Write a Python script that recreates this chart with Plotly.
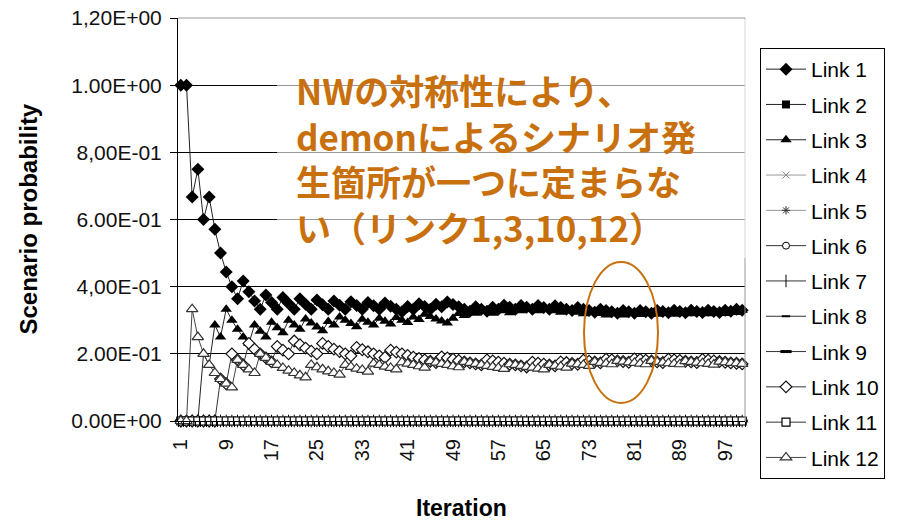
import plotly.graph_objects as go

iterations = list(range(1, 101))
x_tick_values = [1, 9, 17, 25, 33, 41, 49, 57, 65, 73, 81, 89, 97]
x_tick_labels = ["1", "9", "17", "25", "33", "41", "49", "57", "65", "73", "81", "89", "97"]
y_tick_values = [0.0, 0.2, 0.4, 0.6, 0.8, 1.0, 1.2]
y_tick_labels = ["0.00E+00", "2.00E-01", "4,00E-01", "6.00E-01", "8,00E-01", "1.00E+00", "1,20E+00"]

link1 = [
    1.000, 1.000, 0.667, 0.750, 0.600, 0.667, 0.571, 0.500, 0.444, 0.400,
    0.364, 0.417, 0.385, 0.357, 0.333, 0.375, 0.353, 0.333, 0.368, 0.350,
    0.333, 0.364, 0.348, 0.333, 0.360, 0.346, 0.333, 0.357, 0.345, 0.333,
    0.355, 0.344, 0.333, 0.353, 0.343, 0.333, 0.351, 0.342, 0.333, 0.325,
    0.341, 0.333, 0.349, 0.341, 0.333, 0.348, 0.340, 0.354, 0.347, 0.340,
    0.333, 0.327, 0.340, 0.333, 0.327, 0.339, 0.333, 0.345, 0.339, 0.333,
    0.344, 0.339, 0.333, 0.344, 0.338, 0.333, 0.343, 0.338, 0.333, 0.329,
    0.338, 0.333, 0.329, 0.324, 0.333, 0.329, 0.325, 0.321, 0.329, 0.325,
    0.321, 0.329, 0.325, 0.321, 0.329, 0.326, 0.322, 0.330, 0.326, 0.322,
    0.330, 0.326, 0.323, 0.330, 0.326, 0.323, 0.330, 0.327, 0.333, 0.330,
]

link3 = [
    0.000, 0.000, 0.000, 0.000, 0.200, 0.167, 0.286, 0.250, 0.333, 0.300,
    0.273, 0.250, 0.231, 0.286, 0.267, 0.250, 0.294, 0.278, 0.263, 0.300,
    0.286, 0.273, 0.304, 0.292, 0.280, 0.269, 0.296, 0.286, 0.310, 0.300,
    0.290, 0.281, 0.303, 0.294, 0.286, 0.306, 0.297, 0.289, 0.308, 0.300,
    0.293, 0.310, 0.302, 0.318, 0.311, 0.304, 0.298, 0.292, 0.306, 0.320,
    0.314, 0.327, 0.321, 0.333, 0.327, 0.321, 0.333, 0.328, 0.322, 0.333,
    0.328, 0.339, 0.333, 0.328, 0.338, 0.333, 0.328, 0.324, 0.333, 0.329,
    0.324, 0.319, 0.329, 0.324, 0.320, 0.316, 0.325, 0.321, 0.316, 0.325,
    0.321, 0.317, 0.325, 0.321, 0.318, 0.326, 0.322, 0.318, 0.326, 0.322,
    0.319, 0.326, 0.323, 0.319, 0.326, 0.323, 0.320, 0.327, 0.323, 0.330,
]

link10 = [
    0.000, 0.000, 0.000, 0.000, 0.000, 0.000, 0.000, 0.125, 0.111, 0.200,
    0.182, 0.167, 0.231, 0.214, 0.200, 0.188, 0.176, 0.222, 0.211, 0.200,
    0.238, 0.227, 0.217, 0.208, 0.200, 0.231, 0.222, 0.214, 0.207, 0.200,
    0.194, 0.219, 0.212, 0.206, 0.200, 0.194, 0.189, 0.211, 0.205, 0.200,
    0.195, 0.190, 0.186, 0.182, 0.178, 0.174, 0.191, 0.188, 0.184, 0.180,
    0.176, 0.173, 0.170, 0.167, 0.182, 0.179, 0.175, 0.172, 0.169, 0.167,
    0.164, 0.161, 0.175, 0.172, 0.169, 0.167, 0.164, 0.176, 0.174, 0.171,
    0.169, 0.181, 0.178, 0.176, 0.173, 0.184, 0.182, 0.179, 0.177, 0.175,
    0.185, 0.183, 0.181, 0.179, 0.176, 0.174, 0.184, 0.182, 0.180, 0.178,
    0.176, 0.174, 0.183, 0.181, 0.179, 0.177, 0.175, 0.173, 0.172, 0.170,
]

link12 = [
    0.000, 0.000, 0.333, 0.250, 0.200, 0.167, 0.143, 0.125, 0.111, 0.100,
    0.182, 0.167, 0.154, 0.143, 0.200, 0.188, 0.176, 0.167, 0.158, 0.150,
    0.143, 0.136, 0.130, 0.167, 0.160, 0.154, 0.148, 0.143, 0.138, 0.167,
    0.161, 0.156, 0.152, 0.147, 0.171, 0.167, 0.162, 0.158, 0.154, 0.175,
    0.171, 0.167, 0.163, 0.159, 0.178, 0.174, 0.170, 0.167, 0.163, 0.160,
    0.176, 0.173, 0.170, 0.167, 0.164, 0.161, 0.158, 0.155, 0.169, 0.167,
    0.164, 0.161, 0.159, 0.156, 0.154, 0.167, 0.164, 0.162, 0.159, 0.171,
    0.169, 0.167, 0.164, 0.176, 0.173, 0.171, 0.169, 0.179, 0.177, 0.175,
    0.173, 0.171, 0.169, 0.179, 0.176, 0.174, 0.172, 0.170, 0.169, 0.178,
    0.176, 0.174, 0.172, 0.170, 0.168, 0.177, 0.175, 0.173, 0.172, 0.170,
]

# links 2, 4, 5, 6, 7, 8, 9 and 11 stay at zero for every iteration
link_zero = [
    0, 0, 0, 0, 0, 0, 0, 0, 0, 0,
    0, 0, 0, 0, 0, 0, 0, 0, 0, 0,
    0, 0, 0, 0, 0, 0, 0, 0, 0, 0,
    0, 0, 0, 0, 0, 0, 0, 0, 0, 0,
    0, 0, 0, 0, 0, 0, 0, 0, 0, 0,
    0, 0, 0, 0, 0, 0, 0, 0, 0, 0,
    0, 0, 0, 0, 0, 0, 0, 0, 0, 0,
    0, 0, 0, 0, 0, 0, 0, 0, 0, 0,
    0, 0, 0, 0, 0, 0, 0, 0, 0, 0,
    0, 0, 0, 0, 0, 0, 0, 0, 0, 0,
]

series_names = ["Link 1", "Link 2", "Link 3", "Link 4", "Link 5", "Link 6",
                "Link 7", "Link 8", "Link 9", "Link 10", "Link 11", "Link 12"]
series_values = [link1, link_zero, link3, link_zero, link_zero, link_zero,
                 link_zero, link_zero, link_zero, link10, link_zero, link12]

styles = [
    dict(symbol="diamond", size=10, color="black", lc="black", lw=0, line="#222"),
    dict(symbol="square", size=8, color="black", lc="black", lw=0, line="#222"),
    dict(symbol="triangle-up", size=10, color="black", lc="black", lw=0, line="#222"),
    dict(symbol="x-thin", size=7, color="#888", lc="#888", lw=1, line="#999"),
    dict(symbol="asterisk", size=7, color="#333", lc="#333", lw=1, line="#999"),
    dict(symbol="circle", size=7, color="white", lc="black", lw=1, line="#333"),
    dict(symbol="line-ns", size=9, color="black", lc="black", lw=1, line="#333"),
    dict(symbol="line-ew", size=6, color="black", lc="black", lw=2, line="#333"),
    dict(symbol="line-ew", size=8, color="black", lc="black", lw=3, line="#333"),
    dict(symbol="diamond", size=9, color="white", lc="#111", lw=1.2, line="#333"),
    dict(symbol="square", size=8, color="white", lc="black", lw=1.2, line="#333"),
    dict(symbol="triangle-up", size=10, color="white", lc="#333", lw=1.2, line="#444"),
]

fig = go.Figure()
for name, vals, st in zip(series_names, series_values, styles):
    fig.add_trace(go.Scatter(
        x=iterations, y=vals, name=name, mode="lines+markers",
        legendgroup=name, cliponaxis=False,
        line=dict(color=st["line"], width=1),
        marker=dict(symbol=st["symbol"], size=st["size"], color=st["color"],
                    line=dict(color=st["lc"], width=st["lw"])),
    ))

W, H = 903, 520
L, R, T, B = 178, 745, 18, 421

def px(x):
    return (x - L) / (R - L)

def py(y):
    return (B - y) / (B - T)

base_font = "Liberation Sans, Arial, sans-serif"
orange = "#C8700E"

fig.update_layout(
    width=W, height=H,
    margin=dict(l=L, r=W - R, t=T, b=H - B, pad=0, autoexpand=False),
    paper_bgcolor="white", plot_bgcolor="white",
    font=dict(family=base_font, size=21, color="black"),
    showlegend=True,
    legend=dict(
        x=px(760), y=py(48), xanchor="left", yanchor="top",
        bordercolor="black", borderwidth=1, bgcolor="white",
        font=dict(family=base_font, size=21, color="black"),
        tracegroupgap=5, itemwidth=40, maxheight=470,
    ),
    xaxis=dict(
        range=[0.5, 100.5], tickmode="array", tickvals=x_tick_values,
        ticktext=x_tick_labels, tickangle=-90, ticks="",
        ticklabelstandoff=9,
        showgrid=False, zeroline=False, showline=True, linecolor="black", linewidth=1,
        tickfont=dict(family=base_font, size=20, color="#111"),
        minor=dict(tickmode="linear", tick0=0.5, dtick=1, ticks="outside",
                   ticklen=5, tickcolor="black", tickwidth=1, showgrid=False),
    ),
    yaxis=dict(
        range=[0, 1.2], tickmode="array", tickvals=y_tick_values, ticktext=y_tick_labels,
        ticks="outside", ticklen=7, tickcolor="black",
        showgrid=True, gridcolor="black", gridwidth=1,
        zeroline=False, showline=True, linecolor="black", linewidth=1,
        tickfont=dict(family=base_font, size=21, color="#111"),
        ticklabelstandoff=4,
    ),
    shapes=[
        # plot area frame (top and right) in grey
        dict(type="line", xref="paper", yref="paper", x0=0, x1=1, y0=1, y1=1,
             line=dict(color="#999", width=1), layer="above"),
        dict(type="line", xref="paper", yref="paper", x0=1, x1=1, y0=0, y1=1,
             line=dict(color="#999", width=1), layer="above"),
        # translucent text box behind the note
        dict(type="rect", xref="paper", yref="paper", x0=px(277), x1=px(903),
             y0=py(258), y1=py(19), fillcolor="rgba(255,255,255,0.6)",
             line=dict(width=0), layer="above"),
        # highlight ellipse
        dict(type="circle", xref="paper", yref="paper",
             x0=px(584), x1=px(658), y0=py(403), y1=py(262),
             line=dict(color=orange, width=2), layer="above"),
    ],
    annotations=[
        dict(text="<b>NWの対称性により、<br>demonによるシナリオ発<br>生箇所が一つに定まらな<br>い（リンク1,3,10,12）</b>",
             xref="paper", yref="paper", x=px(294), y=py(62), xanchor="left", yanchor="top",
             align="left", showarrow=False,
             font=dict(family="Noto Sans CJK JP", size=35, color=orange)),
        dict(text="<b>Scenario probability</b>", xref="paper", yref="paper",
             x=px(28), y=0.5, xanchor="center", yanchor="middle", textangle=-90,
             showarrow=False, font=dict(family=base_font, size=24, color="black")),
        dict(text="<b>Iteration</b>", xref="paper", yref="paper",
             x=0.5, y=py(508), xanchor="center", yanchor="middle",
             showarrow=False, font=dict(family=base_font, size=23, color="black")),
    ],
)

fig.write_html("out.html", config={"displayModeBar": False})

# remove the browser's default page margin so the figure sits at the top-left corner
with open("out.html", "r", encoding="utf-8") as f:
    html = f.read()
html = html.replace("<head>", "<head><style>html,body{margin:0;padding:0;overflow:hidden;}</style>", 1)
with open("out.html", "w", encoding="utf-8") as f:
    f.write(html)
